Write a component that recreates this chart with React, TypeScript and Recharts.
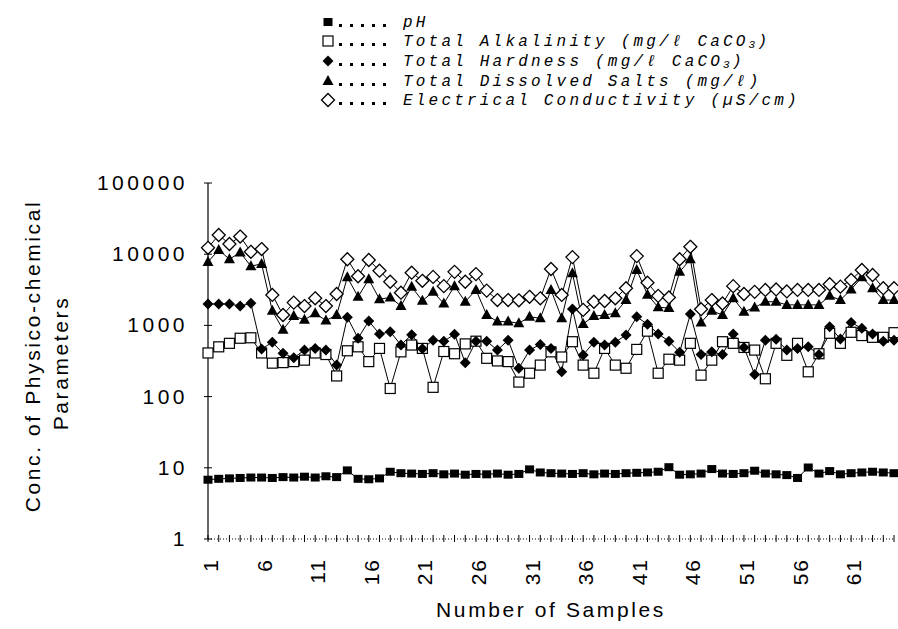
import { LineChart, Line, XAxis, YAxis, Legend, Label } from 'recharts'

const SAMPLES = Array.from({ length: 65 }, (_, i) => i + 1)
const X_LABELS = [1, 6, 11, 16, 21, 26, 31, 36, 41, 46, 51, 56, 61]
const Y_TICKS = [1, 10, 100, 1000, 10000, 100000]

const PH = [
  6.8, 7.0, 7.1, 7.2, 7.3, 7.3, 7.2, 7.4, 7.3, 7.5, 7.3, 7.6, 7.4,
  9.2, 7.0, 6.9, 7.1,
  8.8, 8.4, 8.3, 8.2, 8.4, 8.1, 8.3, 8.0, 8.2, 8.1, 8.3, 8.0, 8.2,
  9.5, 8.6, 8.4, 8.3, 8.2, 8.4, 8.1, 8.3, 8.2, 8.4, 8.5, 8.6, 8.8,
  10.2, 8.0, 8.1, 8.3, 9.6, 8.3, 8.2, 8.4, 9.1, 8.3, 8.1, 7.9, 7.2,
  10.1, 8.3, 9.0, 8.1, 8.4, 8.6, 8.8, 8.6, 8.4,
]
const ALKALINITY = [
  410, 500, 560, 660, 670, 410, 295, 300, 310, 325,
  410, 390, 195, 440, 500, 310, 475, 130, 425, 530,
  475, 135, 430, 400, 550, 600, 345, 317, 310, 160,
  213, 277, 425, 360, 590, 277, 213, 475, 277, 250,
  460, 830, 213, 335, 325, 560, 200, 325, 590, 560,
  490, 450, 178, 560, 380, 560, 223, 400, 775, 560,
  800, 720, 680, 680, 790,
]
const HARDNESS = [
  2000, 2000, 2000, 1870, 2050, 465, 580, 405, 350, 450,
  475, 450, 277, 1300, 660, 1150, 755, 815, 530, 740,
  470, 620, 600, 750, 300, 600, 600, 450, 620, 250,
  450, 540, 475, 223, 1700, 385, 580, 530, 580, 735,
  1320, 1040, 760, 600, 420, 1440, 390, 425, 390, 755,
  490, 205, 620, 640, 450, 475, 500, 390, 960, 645,
  1100, 910, 760, 600, 620,
]
const TDS = [
  7800, 11500, 8500, 10600, 6800, 7300, 1600, 870, 1350, 1200,
  1480, 1170, 1400, 4750, 2520, 4450, 2330, 2470, 1870, 3480,
  2220, 2960, 2030, 3560, 2150, 3150, 1400, 1130, 1130, 1070,
  1320, 1260, 3150, 1260, 5400, 1050, 1350, 1400, 1480, 2270,
  6000, 2700, 1800, 1750, 5650, 8500, 1100, 1600, 1400, 2400,
  1550, 1790, 2150, 2150, 1940, 1940, 1940, 1940, 2600, 2270,
  3200, 4750, 3330, 2270, 2270,
]
const EC = [
  12300, 18600, 13900, 17700, 10800, 11800, 2680, 1400, 2090, 1870,
  2400, 1870, 2760, 8500, 4900, 8300, 5870, 4100, 2880, 5500,
  4230, 4800, 3560, 5650, 4100, 5250, 3080, 2270, 2270, 2250,
  2520, 2400, 6200, 2680, 9100, 1650, 2150, 2200, 2400, 3330,
  9400, 3980, 2600, 2470, 8500, 12700, 1690, 2270, 2030, 3560,
  2760, 2960, 3150, 3200, 3000, 3150, 3150, 3150, 3780, 3500,
  4350, 6000, 5100, 3330, 3330,
]

const data = SAMPLES.map((s, i) => ({
  s,
  ph: PH[i],
  alk: ALKALINITY[i],
  hard: HARDNESS[i],
  tds: TDS[i],
  ec: EC[i],
}))

const AXIS_FONT = "'Liberation Sans', Arial, sans-serif"
const LEGEND_FONT = "'Liberation Mono', 'DejaVu Sans Mono', monospace"

// marker shapes
const shape = (kind: string, cx: number, cy: number, key?: any) => {
  switch (kind) {
    case 'fsq':
      return <rect key={key} x={cx - 4.5} y={cy - 4} width={9} height={8} fill="#000" />
    case 'osq':
      return <rect key={key} x={cx - 5} y={cy - 5} width={10} height={10} fill="#fff" stroke="#000" strokeWidth={1.2} />
    case 'fdia':
      return <path key={key} d={`M${cx},${cy - 5.5}L${cx + 5.5},${cy}L${cx},${cy + 5.5}L${cx - 5.5},${cy}Z`} fill="#000" />
    case 'ftri':
      return <path key={key} d={`M${cx},${cy - 6}L${cx + 5.5},${cy + 4}L${cx - 5.5},${cy + 4}Z`} fill="#000" />
    default:
      return <path key={key} d={`M${cx},${cy - 6.5}L${cx + 6.5},${cy}L${cx},${cy + 6.5}L${cx - 6.5},${cy}Z`} fill="#fff" stroke="#000" strokeWidth={1.3} />
  }
}

const dotOf = (kind: string) => (p: any) => {
  if (p.cx == null || p.cy == null) return <g key={p.index} />
  return shape(kind, p.cx, p.cy, p.index)
}

const XTick = (props: any) => {
  const { x, y, payload } = props
  const v = payload.value
  return (
    <g>
      <line x1={x} x2={x} y1={y - 4} y2={y + 3} stroke="#000" strokeWidth={1} />
      {X_LABELS.includes(v) && (
        <text x={x + 10} y={y + 19} transform={`rotate(-90, ${x + 10}, ${y + 19})`}
          textAnchor="end" fontFamily={AXIS_FONT} fontSize={21} letterSpacing={2} fill="#000">
          {v}
        </text>
      )}
    </g>
  )
}

const YTick = (props: any) => {
  const { x, y, payload } = props
  return (
    <g>
      <line x1={x - 4} x2={x + 4} y1={y} y2={y} stroke="#000" strokeWidth={1} />
      <text x={x - 20} y={y + 7} textAnchor="end" fontFamily={AXIS_FONT} fontSize={21}
        letterSpacing={3.5} fill="#000">
        {payload.value}
      </text>
    </g>
  )
}

const YTitle = (props: any) => {
  const vb = props.viewBox || { x: 0, y: 183, width: 208, height: 356 }
  const cy = vb.y + vb.height / 2
  return (
    <g fontFamily={AXIS_FONT} fontSize={21} letterSpacing={2.6} fill="#000">
      <text x={40} y={cy - 5} transform={`rotate(-90, 40, ${cy - 5})`} textAnchor="middle">
        Conc. of Physico-chemical
      </text>
      <text x={68} y={cy + 2} transform={`rotate(-90, 68, ${cy + 2})`} textAnchor="middle">
        Parameters
      </text>
    </g>
  )
}

const LEGEND_ROWS = [
  { kind: 'fsq', y: 22, text: 'pH', sub: '', tail: '' },
  { kind: 'osq', y: 41, text: 'Total Alkalinity (mg/ℓ CaCO', sub: '3', tail: ')' },
  { kind: 'fdia', y: 61, text: 'Total Hardness (mg/ℓ CaCO', sub: '3', tail: ')' },
  { kind: 'ftri', y: 81, text: 'Total Dissolved Salts (mg/ℓ)', sub: '', tail: '' },
  { kind: 'odia', y: 100, text: 'Electrical Conductivity (µS/cm)', sub: '', tail: '' },
]

const CHAR_W = 16 * 0.6 + 3.2

const LegendBox = () => (
  <svg width={898} height={112} style={{ display: 'block' }}>
    {LEGEND_ROWS.map((r) => {
      const subX = 403 + r.text.length * CHAR_W
      return (
        <g key={r.kind}>
          {shape(r.kind, 328, r.y)}
          {[0, 1, 2, 3, 4].map((k) => (
            <rect key={k} x={339 + k * 11} y={r.y + 2} width={3} height={3} fill="#000" />
          ))}
          <text x={403} y={r.y + 5} fontFamily={LEGEND_FONT} fontStyle="italic" fontSize={16}
            letterSpacing={3.2} fill="#000">
            {r.text}
          </text>
          {r.sub && (
            <text x={subX} y={r.y + 7} fontFamily={LEGEND_FONT} fontStyle="italic" fontSize={11}
              fill="#000">
              {r.sub}
            </text>
          )}
          {r.tail && (
            <text x={subX + 9} y={r.y + 5} fontFamily={LEGEND_FONT} fontStyle="italic" fontSize={16}
              fill="#000">
              {r.tail}
            </text>
          )}
        </g>
      )
    })}
  </svg>
)

export default function App() {
  return (
    <div style={{ position: 'absolute', left: 0, top: 0, background: '#fff' }}>
      <LineChart width={898} height={629} data={data} margin={{ top: 183, right: 4, bottom: 0, left: 0 }}>
        <XAxis dataKey="s" type="number" domain={[1, 65]} ticks={SAMPLES} interval={0}
          tick={<XTick />} tickLine={false} tickSize={0} tickMargin={0} height={90}
          axisLine={{ stroke: '#000', strokeWidth: 1, strokeDasharray: '1 2' }}>
          <Label value="Number of Samples" position="insideBottom" offset={12}
            style={{ fontFamily: AXIS_FONT, fontSize: 21, letterSpacing: 2.6, fill: '#000' }} />
        </XAxis>
        <YAxis type="number" scale="log" domain={[1, 100000]} ticks={Y_TICKS} allowDataOverflow
          width={208} tick={<YTick />} tickLine={false} tickSize={0} tickMargin={0}
          axisLine={{ stroke: '#000', strokeWidth: 1.2 }}>
          <Label content={<YTitle />} />
        </YAxis>
        <Legend layout="vertical" align="center" verticalAlign="middle" content={<LegendBox />}
          wrapperStyle={{ top: 0, left: 0, width: 898, height: 112 }} />
        <Line dataKey="ph" type="linear" stroke="#000" strokeWidth={1} dot={dotOf('fsq')}
          activeDot={false} isAnimationActive={false} />
        <Line dataKey="alk" type="linear" stroke="#000" strokeWidth={1} dot={dotOf('osq')}
          activeDot={false} isAnimationActive={false} />
        <Line dataKey="hard" type="linear" stroke="#000" strokeWidth={1} dot={dotOf('fdia')}
          activeDot={false} isAnimationActive={false} />
        <Line dataKey="tds" type="linear" stroke="#000" strokeWidth={1} dot={dotOf('ftri')}
          activeDot={false} isAnimationActive={false} />
        <Line dataKey="ec" type="linear" stroke="#000" strokeWidth={1} dot={dotOf('odia')}
          activeDot={false} isAnimationActive={false} />
      </LineChart>
    </div>
  )
}
